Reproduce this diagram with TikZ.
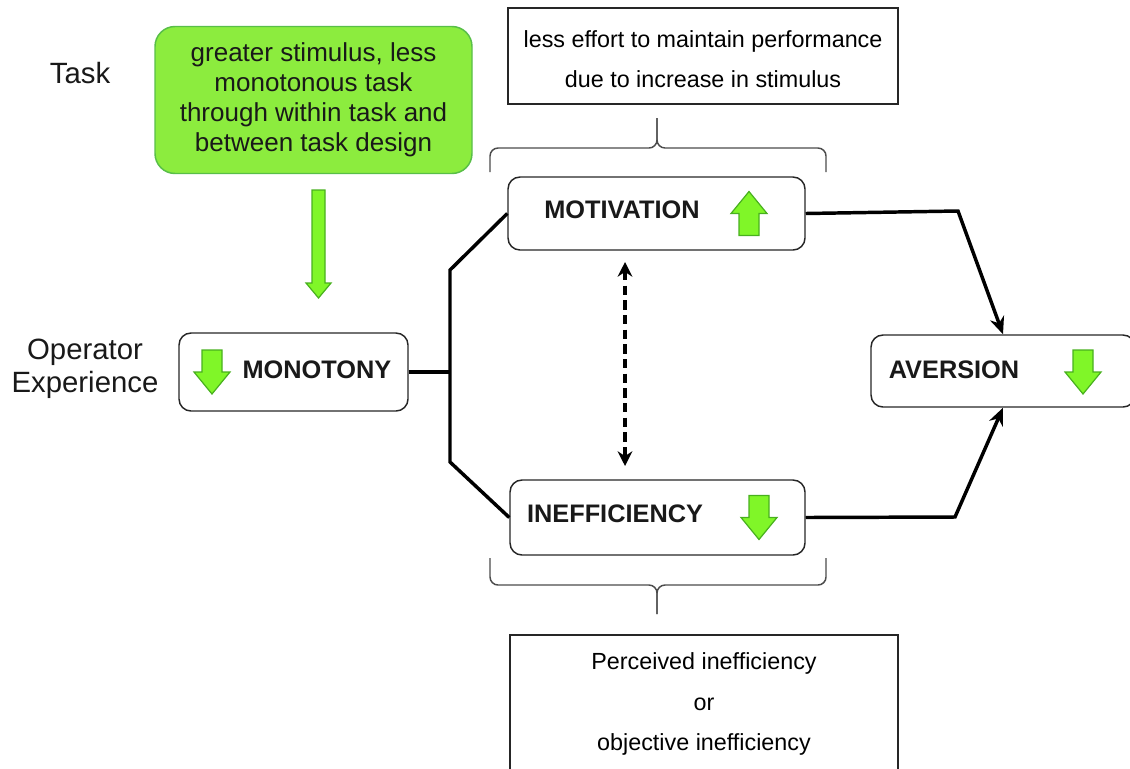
\documentclass[tikz,border=0pt]{standalone}
\usepackage{fontspec}
\setmainfont{Liberation Sans}
\usetikzlibrary{arrows.meta}
\definecolor{taskgreen}{RGB}{140,236,62}
\definecolor{taskedge}{RGB}{88,190,72}
\definecolor{arrowgreen}{RGB}{128,246,40}
\definecolor{arrowedge}{RGB}{72,176,30}
\tikzset{
  dnarrow/.pic={\path[draw=arrowedge, fill=arrowgreen, line width=0.9pt]
    (-10,-22) -- (10,-22) -- (10,0) -- (18,0) -- (0,22) -- (-18,0) -- (-10,0) -- cycle;}
}
\begin{document}
\begin{tikzpicture}[x=0.75pt, y=-0.75pt,
  box/.style={draw=black!85, line width=1.1pt, rounded corners=9pt, inner sep=0pt},
  note/.style={draw=black!85, line width=1.1pt, inner sep=0pt},
  notetxt/.style={align=center, font=\fontsize{17.5}{30.4}\selectfont},
  lab/.style={font=\bfseries\fontsize{19}{22}\selectfont, text=black!90},
  side/.style={align=center, font=\fontsize{22}{24.75}\selectfont, text=black!90},
  conn/.style={line width=2.6pt},
  arr/.style={conn, -{Stealth[length=13pt, width=11pt]}},
  dasharr/.style={conn, dash pattern=on 7pt off 4pt, {Stealth[length=11pt, width=11pt]}-{Stealth[length=11pt, width=11pt]}},
  brc/.style={line width=1.1pt, draw=black!70, rounded corners=6pt}
]
\useasboundingbox (0,0) rectangle (1130,768);
\clip (0,0) rectangle (1130,768);

% left labels
\node[side] (tasklbl) at (80,73) {Task};
\node[side] (oplbl) at (85,369) {Operator\\Experience};

% task design box and its arrow
\node[draw=taskedge, fill=taskgreen, line width=1.1pt, rounded corners=15pt,
  minimum width=237.75pt, minimum height=110.25pt, inner sep=0pt, align=center,
  font=\fontsize{19.5}{22.5}\selectfont, text=black!90] (task) at (313.5,100)
  {greater stimulus, less\\monotonous task\\through within task and\\between task design};
\path[draw=arrowedge, fill=arrowgreen, line width=0.9pt]
  (312,190) -- (325,190) -- (325,283) -- (331,283) -- (318.5,298) -- (306,283) -- (312,283) -- cycle;

% main boxes
\node[box, minimum width=171.75pt, minimum height=58.5pt] (mono) at (293.5,372) {};
\node[box, minimum width=222.75pt, minimum height=54.75pt] (motiv) at (656.5,213.5) {};
\node[box, minimum width=221.25pt, minimum height=56.25pt] (ineff) at (657.5,517.5) {};
\node[box, minimum width=198pt, minimum height=54pt] (avers) at (1003,371) {};

\node[lab] (monotxt) at (317,370) {MONOTONY};
\node[lab] (motivtxt) at (622,210) {MOTIVATION};
\node[lab] (inefftxt) at (615,514) {INEFFICIENCY};
\node[lab] (averstxt) at (954,370) {AVERSION};

\pic at (212,372) {dnarrow};
\pic[rotate=180] at (749,213.5) {dnarrow};
\pic at (759,517.5) {dnarrow};
\pic at (1083,372) {dnarrow};

% notes
\node[note, minimum width=292.5pt, minimum height=72pt] (effort) at (703,56) {};
\node[notetxt] (efforttxt) at (703,59)
  {less effort to maintain performance\\due to increase in stimulus};
\node[note, minimum width=291pt, minimum height=116.25pt] (perc) at (704,712.5) {};
\node[notetxt] (perctxt) at (704,704)
  {Perceived inefficiency\\or\\objective inefficiency};

% braces
\draw[brc] (490,172) -- (490,148) -- (657,148) -- (657,118);
\draw[brc] (657,118) -- (657,148) -- (826,148) -- (826,172);
\draw[brc] (490,558) -- (490,585) -- (657,585) -- (657,614);
\draw[brc] (657,614) -- (657,585) -- (826,585) -- (826,558);

% connectors
\coordinate (jn) at (450,372);
\coordinate (jt) at (450,270);
\coordinate (jb) at (450,462);
\coordinate (kt) at (958,211);
\coordinate (kb) at (955,517);
\coordinate (da) at (625,262);
\coordinate (db) at (625,466);
\draw[conn] (mono.east) -- (jn);
\draw[conn, line join=miter] (motiv.west) -- (jt) -- (jb) -- (ineff.west);
\draw[arr] (motiv.east) -- (kt) -- (avers.north);
\draw[arr] (ineff.east) -- (kb) -- (avers.south);
\draw[dasharr] (da) -- (db);
\end{tikzpicture}
\end{document}
